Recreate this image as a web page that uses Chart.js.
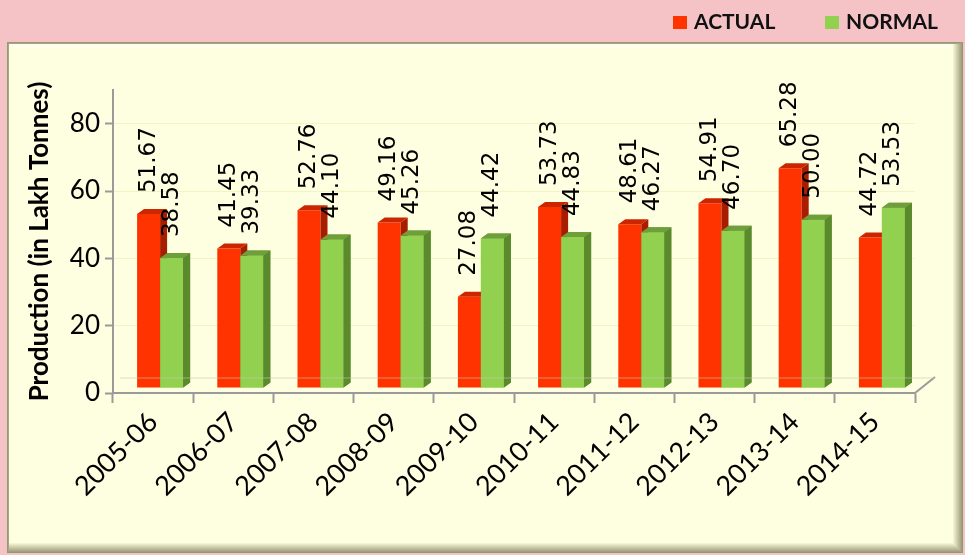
<!DOCTYPE html>
<html>
<head>
<meta charset="utf-8">
<script src="https://cdn.jsdelivr.net/npm/chart.js@4.4.1/dist/chart.umd.min.js"></script>
<style>
  html, body { margin: 0; padding: 0; background: #f5c3c6; }
  canvas { display: block; }
</style>
</head>
<body>
<canvas id="prodChart" width="965" height="555"></canvas>
<script>
// data
const years = ['2005-06', '2006-07', '2007-08', '2008-09', '2009-10', '2010-11', '2011-12', '2012-13', '2013-14', '2014-15'];
const actual = [51.67, 41.45, 52.76, 49.16, 27.08, 53.73, 48.61, 54.91, 65.28, 44.72];
const normal = [38.58, 39.33, 44.10, 45.26, 44.42, 44.83, 46.27, 46.70, 50.00, 53.53];
const yTicks = [0, 20, 40, 60, 80];
const seriesNames = ['ACTUAL', 'NORMAL'];

const DX = 7, DY = 5; // fake 3D depth

const faceColors = [
  { front: '#ff3300', side: '#a81c00', top: '#cc2600' },
  { front: '#92d050', side: '#5b8a2c', top: '#6f9f3a' }
];

// background, panel with bevelled edge
const panelPlugin = {
  id: 'panel',
  beforeDraw(chart) {
    const c = chart.ctx;
    c.save();
    c.fillStyle = '#f5c3c6';
    c.fillRect(0, 0, chart.width, chart.height);
    const x0 = 7, y0 = 42, x1 = chart.width, y1 = chart.height;
    const steps = 11;
    for (let i = 0; i < steps; i++) {
      const t = i / (steps - 1);
      const r = Math.round(150 + (254 - 150) * t);
      const g = Math.round(150 + (254 - 150) * t);
      const b = Math.round(115 + (224 - 115) * t);
      c.fillStyle = `rgb(${r},${g},${b})`;
      const l = x0 + Math.min(i, 3) * 0.7;
      const tp = y0 + Math.min(i, 3) * 0.7;
      c.fillRect(l, tp, (x1 - 2 - i) - l, (y1 - 2 - i) - tp);
    }
    c.fillStyle = 'rgba(255,255,240,0.8)';
    c.fillRect(x0 + 3, y0 + 3, x1 - x0 - 16, 3);
    c.restore();
  }
};

function drawFaces(c, bar, cols) {
  const w = bar.width;
  const l = bar.x - w / 2, r = bar.x + w / 2;
  const top = bar.y, base = bar.base;
  c.fillStyle = cols.side;
  c.beginPath();
  c.moveTo(r, top);
  c.lineTo(r + DX, top - DY);
  c.lineTo(r + DX, base - DY);
  c.lineTo(r, base);
  c.closePath();
  c.fill();
  c.fillStyle = cols.top;
  c.beginPath();
  c.moveTo(l, top);
  c.lineTo(l + DX, top - DY);
  c.lineTo(r + DX, top - DY);
  c.lineTo(r, top);
  c.closePath();
  c.fill();
}

// bars are pushed back a little and get side + top faces
const bars3d = {
  id: 'bars3d',
  beforeDatasetsDraw(chart) {
    chart.ctx.save();
    chart.ctx.translate(DX, -DY);
  },
  afterDatasetDraw(chart, args) {
    const c = chart.ctx;
    args.meta.data.forEach(bar => drawFaces(c, bar, faceColors[args.index]));
    // ACTUAL is drawn last; put NORMAL back in front of its side face
    if (args.index === 0) {
      chart.getDatasetMeta(1).data.forEach(bar => {
        c.fillStyle = faceColors[1].front;
        c.fillRect(bar.x - bar.width / 2, bar.y, bar.width, bar.base - bar.y);
        drawFaces(c, bar, faceColors[1]);
      });
    }
  },
  afterDatasetsDraw(chart) {
    const c = chart.ctx;
    c.restore();
    const area = chart.chartArea;
    c.save();
    c.strokeStyle = '#9a9a9a';
    c.lineWidth = 2;
    c.beginPath();
    c.moveTo(area.right, area.bottom);
    c.lineTo(area.right + 20, area.bottom - 16);
    c.stroke();
    c.strokeStyle = 'rgba(200,200,170,0.6)';
    c.lineWidth = 1;
    c.beginPath();
    c.moveTo(area.left + DX, area.bottom - DY - 10);
    c.lineTo(area.right + 20, area.bottom - DY - 10);
    c.stroke();
    c.restore();

    // value labels, rotated
    c.save();
    c.font = '23px "DejaVu Sans"';
    c.fillStyle = '#000';
    c.textAlign = 'left';
    c.textBaseline = 'middle';
    chart.data.datasets.forEach((ds, i) => {
      chart.getDatasetMeta(i).data.forEach((bar, j) => {
        c.save();
        c.translate(bar.x + DX, bar.y - DY - 21);
        c.rotate(-Math.PI / 2);
        c.fillText(ds.data[j].toFixed(2), 0, 0);
        c.restore();
      });
    });
    c.restore();
  },
  afterDraw(chart) {
    // legend
    const c = chart.ctx;
    c.save();
    c.font = 'bold 21px Lato';
    c.textBaseline = 'middle';
    c.textAlign = 'left';
    const items = [
      { x: 673, name: seriesNames[0], col: faceColors[0].front },
      { x: 825, name: seriesNames[1], col: faceColors[1].front }
    ];
    items.forEach(it => {
      c.fillStyle = it.col;
      c.fillRect(it.x, 16, 14, 13);
      c.fillStyle = '#111';
      c.fillText(it.name, it.x + 21, 22);
    });
    c.restore();
  }
};

const ctx = document.getElementById('prodChart').getContext('2d');
new Chart(ctx, {
  type: 'bar',
  data: {
    labels: years,
    datasets: [
      { label: seriesNames[0], data: actual, backgroundColor: faceColors[0].front },
      { label: seriesNames[1], data: normal, backgroundColor: faceColors[1].front }
    ]
  },
  options: {
    responsive: false,
    animation: false,
    devicePixelRatio: 1,
    layout: { padding: { top: 90, left: 24, right: 50, bottom: 10 } },
    datasets: { bar: { categoryPercentage: 0.574, barPercentage: 1 } },
    scales: {
      x: {
        grid: { offset: true, drawOnChartArea: false, tickLength: 10, tickColor: '#9a9a9a', tickWidth: 2 },
        border: { color: '#9a9a9a', width: 2 },
        ticks: {
          minRotation: 45, maxRotation: 45, color: '#000',
          font: { family: 'Lato', size: 27 }
        },
        afterFit(scale) { scale.height = 555 - 393 - 10; }
      },
      y: {
        min: 0, max: 90,
        afterBuildTicks(scale) {
          scale.ticks = yTicks.map(v => ({ value: v }));
        },
        grid: { color: 'rgba(235,235,170,0.55)', tickLength: 8, tickColor: '#9a9a9a', tickWidth: 2 },
        border: { color: '#9a9a9a', width: 2 },
        ticks: { color: '#000', font: { family: 'Lato', size: 26 }, padding: 5 },
        title: {
          display: true, text: 'Production (in Lakh Tonnes)', color: '#000',
          font: { family: 'Lato', size: 26, weight: 'bold' }, padding: { top: 0, bottom: 2 }
        },
        afterFit(scale) { scale.width = 89; }
      }
    },
    plugins: {
      legend: { display: false },
      tooltip: { enabled: false }
    }
  },
  plugins: [panelPlugin, bars3d]
});
</script>
</body>
</html>
